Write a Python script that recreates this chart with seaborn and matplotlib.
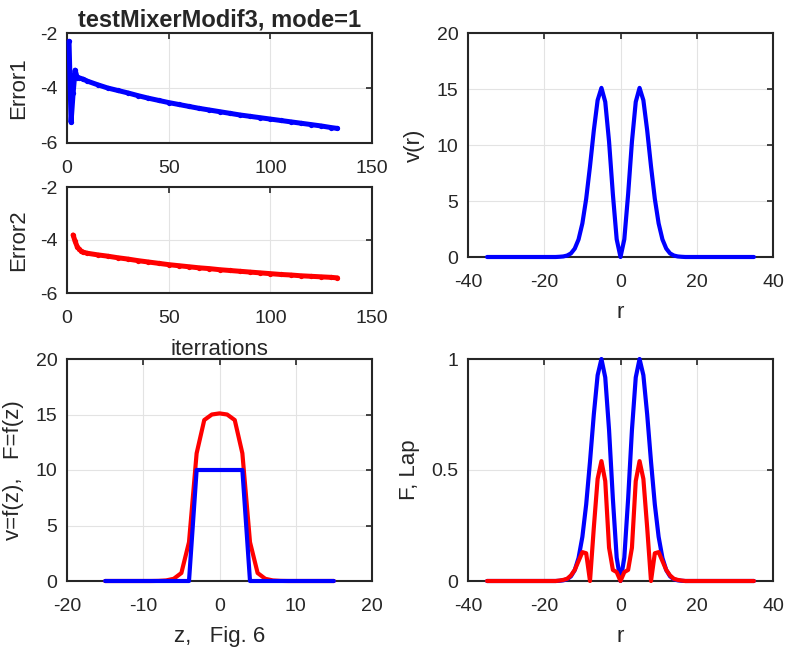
import numpy as np
import pandas as pd
import seaborn as sns
import matplotlib
matplotlib.use("Agg")
import matplotlib.pyplot as plt
from matplotlib.ticker import FormatStrFormatter

# convergence history
iters1 = [1, 2, 3, 4, 5, 6, 8, 10, 15, 20, 25, 30, 35, 40, 45, 50, 55, 60, 65, 70,
          75, 80, 85, 90, 95, 100, 105, 110, 115, 120, 125, 130, 133]
err1 = [-2.30, -5.25, -4.20, -3.35, -3.62, -3.63, -3.68, -3.75, -3.88, -4.00, -4.09,
        -4.18, -4.28, -4.37, -4.45, -4.53, -4.60, -4.67, -4.74, -4.80, -4.86, -4.92,
        -4.98, -5.03, -5.08, -5.13, -5.18, -5.23, -5.28, -5.33, -5.38, -5.44, -5.47]
iters2 = [3, 4, 5, 6, 7, 8, 10, 15, 20, 25, 30, 35, 40, 45, 50, 55, 60, 65, 70, 75,
          80, 85, 90, 95, 100, 105, 110, 115, 120, 125, 130, 133]
err2 = [-3.81, -4.05, -4.25, -4.35, -4.42, -4.46, -4.50, -4.56, -4.61, -4.67, -4.72,
        -4.78, -4.83, -4.88, -4.93, -4.97, -5.01, -5.05, -5.08, -5.12, -5.15, -5.18,
        -5.21, -5.24, -5.27, -5.30, -5.32, -5.35, -5.37, -5.39, -5.41, -5.43]

# radial profiles, r = -35..35
r = list(range(-35, 36))
v_r = [0.0] * 19 + [0.02, 0.05, 0.13, 0.32, 0.75, 1.57, 3.0, 5.2, 8.1, 11.3, 14.0, 15.1,
                    13.85, 10.3, 5.6, 1.58, 0.0, 1.58, 5.6, 10.3, 13.85, 15.1, 14.0, 11.3,
                    8.1, 5.2, 3.0, 1.57, 0.75, 0.32, 0.13, 0.05, 0.02] + [0.0] * 19
F_r = [0.0] * 19 + [0.001, 0.003, 0.008, 0.021, 0.049, 0.104, 0.199, 0.345, 0.538, 0.75,
                    0.927, 1.0, 0.917, 0.68, 0.37, 0.105, 0.0, 0.105, 0.37, 0.68, 0.917,
                    1.0, 0.927, 0.75, 0.538, 0.345, 0.199, 0.104, 0.049, 0.021, 0.008,
                    0.003, 0.001] + [0.0] * 19
lap_r = [0.0] * 19 + [0.002, 0.005, 0.01, 0.025, 0.05, 0.09, 0.13, 0.125, 0.0, 0.24,
                      0.46, 0.54, 0.45, 0.15, 0.05, 0.04, 0.0, 0.04, 0.05, 0.15, 0.45,
                      0.54, 0.46, 0.24, 0.0, 0.125, 0.13, 0.09, 0.05, 0.025, 0.01,
                      0.005, 0.002] + [0.0] * 19

# profiles along z, z = -15..15
z = list(range(-15, 16))
f_z = [0.0] * 12 + [10.0] * 7 + [0.0] * 12
F_z = [0.0] * 7 + [0.01, 0.05, 0.2, 0.72, 3.5, 11.5, 14.5, 15.0, 15.1,
                   15.0, 14.5, 11.5, 3.5, 0.72, 0.2, 0.05, 0.01] + [0.0] * 7

sns.set_theme(style="whitegrid")
plt.rcParams.update({
    "font.family": ["Liberation Sans", "DejaVu Sans"],
    "axes.unicode_minus": False,
    "axes.edgecolor": "#262626",
    "axes.linewidth": 1.5,
    "grid.color": "#e3e3e3",
    "grid.linewidth": 0.8,
    "xtick.color": "#262626",
    "ytick.color": "#262626",
    "axes.labelcolor": "#262626",
    "xtick.labelsize": 14,
    "ytick.labelsize": 14,
    "axes.labelsize": 16,
    "axes.labelpad": 8,
})

W, H = 785, 652
fig = plt.figure(figsize=(W / 100, H / 100), dpi=100)


def box(l, t, rr, b):
    return fig.add_axes([l / W, 1 - b / H, (rr - l) / W, (b - t) / H])


def style(ax):
    ax.set_facecolor("white")
    ax.tick_params(direction="in", length=4, width=1.2, top=True, right=True,
                   color="#262626")
    ax.tick_params(axis="x", pad=12)
    ax.tick_params(axis="y", pad=7)
    for s in ax.spines.values():
        s.set_visible(True)
        s.set_zorder(2)


ax1 = box(67, 33, 372, 143)
ax2 = box(67, 187, 372, 293)
ax3 = box(468, 33, 773, 257)
ax4 = box(67, 359, 372, 581)
ax5 = box(468, 359, 773, 581)

blue, red = (0, 0, 1), (1, 0, 0)
line_kw = dict(estimator=None, sort=False, linewidth=3, clip_on=False, zorder=3)
err_kw = dict(estimator=None, sort=False, linewidth=3.6, clip_on=False, zorder=3,
              marker="o", markersize=3.8, markeredgewidth=0)

sns.lineplot(x=iters1, y=err1, ax=ax1, color=blue, **err_kw)
ax1.set_xlim(0, 150)
ax1.set_ylim(-6, -2)
ax1.set_xticks([0, 50, 100, 150])
ax1.set_yticks([-6, -4, -2])
ax1.set_ylabel("Error1")
ax1.set_title("testMixerModif3, mode=1", fontweight="bold", fontsize=17, pad=5)

sns.lineplot(x=iters2, y=err2, ax=ax2, color=red, **err_kw)
ax2.set_xlim(0, 150)
ax2.set_ylim(-6, -2)
ax2.set_xticks([0, 50, 100, 150])
ax2.set_yticks([-6, -4, -2])
ax2.set_ylabel("Error2")
ax2.set_xlabel("iterrations", labelpad=9)

sns.lineplot(x=r, y=v_r, ax=ax3, color=blue, **line_kw)
ax3.set_xlim(-40, 40)
ax3.set_ylim(0, 20)
ax3.set_xticks([-40, -20, 0, 20, 40])
ax3.set_yticks([0, 5, 10, 15, 20])
ax3.set_xlabel("r")
ax3.set_ylabel("v(r)")

sns.lineplot(x=z, y=F_z, ax=ax4, color=red, **line_kw)
sns.lineplot(x=z, y=f_z, ax=ax4, color=blue, **line_kw)
ax4.set_xlim(-20, 20)
ax4.set_ylim(0, 20)
ax4.set_xticks([-20, -10, 0, 10, 20])
ax4.set_yticks([0, 5, 10, 15, 20])
ax4.set_xlabel("z,   Fig. 6")
ax4.set_ylabel("v=f(z),   F=f(z)")

sns.lineplot(x=r, y=F_r, ax=ax5, color=blue, **line_kw)
sns.lineplot(x=r, y=lap_r, ax=ax5, color=red, **line_kw)
ax5.set_xlim(-40, 40)
ax5.set_ylim(0, 1)
ax5.set_xticks([-40, -20, 0, 20, 40])
ax5.set_yticks([0, 0.5, 1])
ax5.yaxis.set_major_formatter(FormatStrFormatter("%g"))
ax5.set_xlabel("r")
ax5.set_ylabel("F, Lap")

for ax in (ax1, ax2, ax3, ax4, ax5):
    style(ax)

fig.savefig("out.png", dpi=100)
